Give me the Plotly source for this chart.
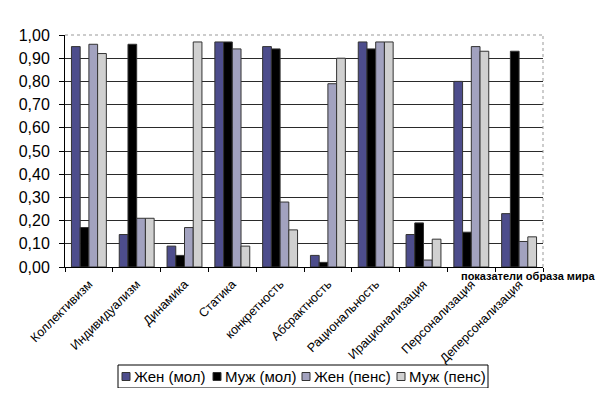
import plotly.graph_objects as go

categories = ["Коллективизм", "Индивидуализм", "Динамика", "Статика", "конкретность",
              "Абсрактность", "Рациональность", "Ирационализация", "Персонализация",
              "Деперсонализация"]
zhen_mol = [0.95, 0.14, 0.09, 0.97, 0.95, 0.05, 0.97, 0.14, 0.80, 0.23]
muzh_mol = [0.17, 0.96, 0.05, 0.97, 0.94, 0.02, 0.94, 0.19, 0.15, 0.93]
zhen_pens = [0.96, 0.21, 0.17, 0.94, 0.28, 0.79, 0.97, 0.03, 0.95, 0.11]
muzh_pens = [0.92, 0.21, 0.97, 0.09, 0.16, 0.90, 0.97, 0.12, 0.93, 0.13]
series_names = ["Жен (мол)", "Муж (мол)", "Жен (пенс)", "Муж (пенс)"]
y_ticks = [0, 0.1, 0.2, 0.3, 0.4, 0.5, 0.6, 0.7, 0.8, 0.9, 1.0]
axis_title = "показатели образа мира"

colors = ["#4d4d8c", "#000000", "#a2a2bf", "#d0d0d0"]
FONT = "Liberation Sans, Arial, sans-serif"

fig = go.Figure()
for name, vals, col in zip(series_names, [zhen_mol, muzh_mol, zhen_pens, muzh_pens], colors):
    fig.add_trace(go.Bar(x=categories, y=vals, name=name, showlegend=False,
                         marker=dict(color=col, line=dict(color="#333333", width=1))))

OFF = 8  # default page body margin
W, H = 604 - OFF, 396 - 2 * OFF
# plot area in page pixels: x 65..543, y 35..267
L = 65 - OFF
T = 35 - OFF
R = W - (543 - OFF)
B = H - (267 - OFF)
pw, ph = W - L - R, H - T - B

def px(x):
    return (x - OFF - L) / pw

def py(y):
    return (H - B - (y - OFF)) / ph

shapes = [
    dict(type="line", xref="paper", yref="paper", x0=0, x1=1, y0=1, y1=1,
         line=dict(color="white", width=2), layer="above"),
    dict(type="line", xref="paper", yref="paper", x0=0, x1=1, y0=1, y1=1,
         line=dict(color="#999999", width=1, dash="dot"), layer="above"),
    dict(type="line", xref="paper", yref="paper", x0=1, x1=1, y0=0, y1=1,
         line=dict(color="#999999", width=1, dash="dot"), layer="above"),
    # legend frame
    dict(type="rect", xref="paper", yref="paper", x0=px(118), x1=px(488), y0=py(365), y1=py(388),
         line=dict(color="black", width=1), fillcolor="white", layer="above"),
]
annotations = [dict(text="<b>" + axis_title + "</b>", x=px(597), y=py(276), xref="paper",
                    yref="paper", xanchor="right", yanchor="middle", showarrow=False,
                    font=dict(size=11, family=FONT))]

# custom legend (Excel-like compact entries)
leg_x = [122, 213, 302, 397]
leg_y = 376.5
for name, col, lx in zip(series_names, colors, leg_x):
    shapes.append(dict(type="rect", xref="paper", yref="paper",
                       x0=px(lx), x1=px(lx + 8), y0=py(leg_y - 4), y1=py(leg_y + 4),
                       line=dict(color="#333333", width=1), fillcolor=col, layer="above"))
    annotations.append(dict(text=name, x=px(lx + 10), y=py(leg_y), xref="paper", yref="paper",
                            xanchor="left", yanchor="middle", showarrow=False,
                            font=dict(size=15, family=FONT)))

fig.update_layout(
    width=W, height=H,
    margin=dict(l=L, r=R, t=T, b=B),
    paper_bgcolor="white", plot_bgcolor="white",
    barmode="group", bargap=0.27, bargroupgap=0,
    separators=", ",
    font=dict(family=FONT, color="black"),
    showlegend=False,
    xaxis=dict(type="category", showline=True, linecolor="black", linewidth=1,
               ticks="outside", tickson="boundaries", ticklen=4, tickcolor="black",
               ticklabelstandoff=4,
               tickangle=-45, tickfont=dict(size=12.5, family=FONT), showgrid=False),
    yaxis=dict(range=[0, 1.0], tickvals=y_ticks, tickformat=".2f", showline=True,
               linecolor="black", linewidth=1, ticks="outside", ticklen=5, tickcolor="black",
               ticklabelstandoff=6,
               tickfont=dict(size=16, family=FONT), showgrid=True, gridcolor="#2a2a2a",
               gridwidth=1, zeroline=False),
    annotations=annotations,
    shapes=shapes,
)

fig.write_html("out.html")
